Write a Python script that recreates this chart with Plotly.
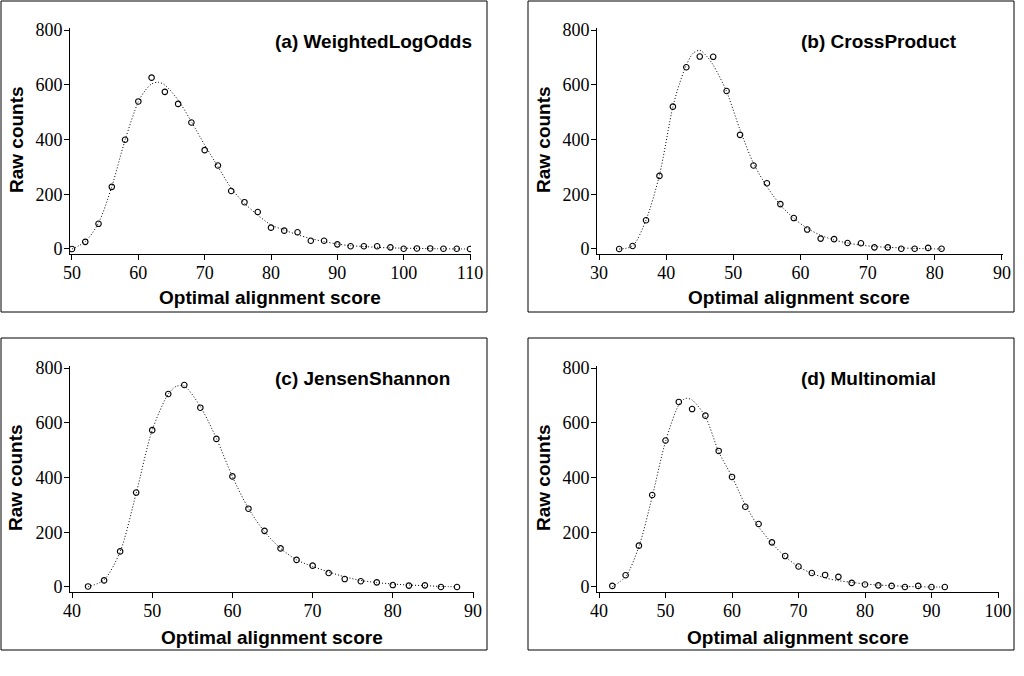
import plotly.graph_objects as go

# ---------------- data ----------------
# (a) WeightedLogOdds
a_x = [50, 52, 54, 56, 58, 60, 62, 64, 66, 68, 70, 72, 74, 76, 78, 80, 82, 84, 86, 88,
       90, 92, 94, 96, 98, 100, 102, 104, 106, 108, 110]
a_y = [0, 26, 92, 227, 399, 539, 626, 574, 530, 462, 361, 305, 212, 171, 135, 78, 67, 61, 30, 30,
       17, 10, 10, 10, 6, 1, 2, 2, 1, 1, 0]
a_fit_x = [50, 52, 54, 56, 58, 60, 61, 62, 63, 64, 66, 68, 70, 72, 74, 76, 78, 80, 82, 84,
           86, 88, 90, 92, 94, 96, 98, 100, 105, 110]
a_fit_y = [0, 27, 95, 228, 398, 538, 578, 603, 609, 599, 544, 465, 380, 301, 222, 167, 124, 88, 69, 52,
           38, 27, 18, 12, 9, 6, 4, 3, 1, 0]

# (b) CrossProduct
b_x = [33, 35, 37, 39, 41, 43, 45, 47, 49, 51, 53, 55, 57, 59, 61, 63, 65, 67, 69, 71,
       73, 75, 77, 79, 81]
b_y = [0, 11, 105, 267, 520, 664, 703, 702, 577, 417, 305, 240, 164, 113, 71, 38, 36, 22, 21, 6,
       6, 1, 1, 4, 1]
b_fit_x = [33, 35, 37, 39, 41, 42, 43, 44, 45, 46, 47, 49, 51, 53, 55, 57, 59, 61, 63, 65,
           67, 69, 71, 73, 75, 77, 79, 81]
b_fit_y = [0, 11, 106, 270, 520, 605, 672, 715, 726, 705, 672, 575, 435, 313, 228, 161, 112, 76, 50, 33,
           22, 14, 9, 6, 4, 2, 1, 0]

# (c) JensenShannon
c_x = [42, 44, 46, 48, 50, 52, 54, 56, 58, 60, 62, 64, 66, 68, 70, 72, 74, 76, 78, 80,
       82, 84, 86, 88]
c_y = [2, 24, 130, 345, 573, 705, 738, 655, 541, 404, 286, 205, 141, 99, 78, 51, 29, 21, 17, 7,
       5, 6, 0, 0]
c_fit_x = [42, 44, 46, 48, 50, 52, 53, 54, 56, 58, 60, 62, 64, 66, 68, 70, 72, 74, 76, 78,
           80, 82, 84, 86, 88]
c_fit_y = [1, 26, 129, 342, 573, 705, 733, 734, 659, 543, 403, 287, 202, 141, 99, 75, 55, 37, 24, 16,
           11, 7, 5, 2, 1]

# (d) Multinomial
d_x = [42, 44, 46, 48, 50, 52, 54, 56, 58, 60, 62, 64, 66, 68, 70, 72, 74, 76, 78, 80,
       82, 84, 86, 88, 90, 92]
d_y = [4, 43, 151, 336, 535, 676, 650, 626, 497, 402, 293, 230, 163, 113, 75, 51, 44, 37, 15, 9,
       6, 4, 0, 4, 0, 0]
d_fit_x = [42, 44, 46, 48, 50, 52, 53, 54, 56, 58, 60, 62, 64, 66, 68, 70, 72, 74, 76, 78,
           80, 82, 84, 86, 88, 90, 92]
d_fit_y = [1, 38, 147, 330, 531, 665, 689, 683, 622, 494, 403, 300, 220, 160, 111, 74, 50, 33, 23, 17,
           11, 7, 5, 2, 1, 0, 0]

panel_titles = ["(a) WeightedLogOdds", "(b) CrossProduct", "(c) JensenShannon", "(d) Multinomial"]
x_ticks = [[50, 60, 70, 80, 90, 100, 110], [30, 40, 50, 60, 70, 80, 90],
           [40, 50, 60, 70, 80, 90], [40, 50, 60, 70, 80, 90, 100]]
y_ticks = [0, 200, 400, 600, 800]
x_title = "Optimal alignment score"
y_title = "Raw counts"

# ---------------- layout geometry (pixels) ----------------
W, H = 1024, 676
def fx(px):
    return px / W
def fy(py):
    return 1 - py / H

panels = [
    dict(xd=(70, 471), yd=(28, 254), xr=(49.70, 110.15), box=(1, 1, 487, 312),
         title=(273, 41), xt=(270, 298), yt=(17, 140)),
    dict(xd=(597, 1003), yd=(28, 254), xr=(29.70, 90.15), box=(528, 1, 1014, 312),
         title=(799, 41), xt=(799, 298), yt=(544, 140)),
    dict(xd=(70, 474), yd=(366, 592), xr=(39.75, 90.12), box=(1, 338, 487, 650),
         title=(273, 378), xt=(272, 637), yt=(16, 478)),
    dict(xd=(597, 999), yd=(366, 592), xr=(39.70, 100.15), box=(528, 338, 1014, 650),
         title=(799, 378), xt=(798, 637), yt=(544, 478)),
]
yr = (-18.3, 807.3)

data = [(a_x, a_y, a_fit_x, a_fit_y), (b_x, b_y, b_fit_x, b_fit_y),
        (c_x, c_y, c_fit_x, c_fit_y), (d_x, d_y, d_fit_x, d_fit_y)]

fig = go.Figure()
tickfont = dict(family="Liberation Serif", size=18, color="black")
boldfont = dict(family="Liberation Sans", size=19, color="black", weight="bold")

shapes = []
annotations = []
layout_axes = {}
for i, (p, (px_, py_, fx_, fy_)) in enumerate(zip(panels, data)):
    n = "" if i == 0 else str(i + 1)
    xa, ya = "x" + n, "y" + n
    fig.add_trace(go.Scatter(x=fx_, y=fy_, mode="lines", xaxis=xa, yaxis=ya,
                             line=dict(color="black", width=1, dash="1px,2px", shape="spline", smoothing=0.8),
                             hoverinfo="skip", showlegend=False))
    fig.add_trace(go.Scatter(x=px_, y=py_, mode="markers", xaxis=xa, yaxis=ya,
                             marker=dict(symbol="circle-open", size=5.5, color="black", line=dict(width=1.1)),
                             showlegend=False))
    layout_axes["xaxis" + n] = dict(domain=[fx(p["xd"][0]), fx(p["xd"][1])], range=list(p["xr"]),
                                    anchor=ya, tickvals=x_ticks[i], ticks="outside", ticklen=5,
                                    tickcolor="black", showline=True, linecolor="black", linewidth=1,
                                    showgrid=False, zeroline=False, tickfont=tickfont, automargin=False,
                                    ticklabelstandoff=-3)
    layout_axes["yaxis" + n] = dict(domain=[fy(p["yd"][1]), fy(p["yd"][0])], range=list(yr),
                                    anchor=xa, tickvals=y_ticks, ticks="outside", ticklen=5,
                                    tickcolor="black", showline=True, linecolor="black", linewidth=1,
                                    showgrid=False, zeroline=False, tickfont=tickfont, automargin=False,
                                    ticklabelstandoff=-2)
    x0, y0, x1, y1 = p["box"]
    shapes.append(dict(type="rect", xref="paper", yref="paper", x0=fx(x0), x1=fx(x1),
                       y0=fy(y1), y1=fy(y0), line=dict(color="black", width=1)))
    annotations.append(dict(text=panel_titles[i], xref="paper", yref="paper",
                            x=fx(p["title"][0]), y=fy(p["title"][1]), xanchor="left", yanchor="middle",
                            showarrow=False, font=boldfont))
    annotations.append(dict(text=x_title, xref="paper", yref="paper",
                            x=fx(p["xt"][0]), y=fy(p["xt"][1]), xanchor="center", yanchor="middle",
                            showarrow=False, font=boldfont))
    annotations.append(dict(text=y_title, xref="paper", yref="paper", textangle=-90,
                            x=fx(p["yt"][0]), y=fy(p["yt"][1]), xanchor="center", yanchor="middle",
                            showarrow=False, font=boldfont))

fig.update_layout(template="none", width=W, height=H, margin=dict(l=0, r=0, t=0, b=0, pad=0),
                  paper_bgcolor="white", plot_bgcolor="white", showlegend=False,
                  shapes=shapes, annotations=annotations, **layout_axes)

fig.write_html("out.html", config={"displayModeBar": False},
               post_script="document.body.style.margin='0';")
